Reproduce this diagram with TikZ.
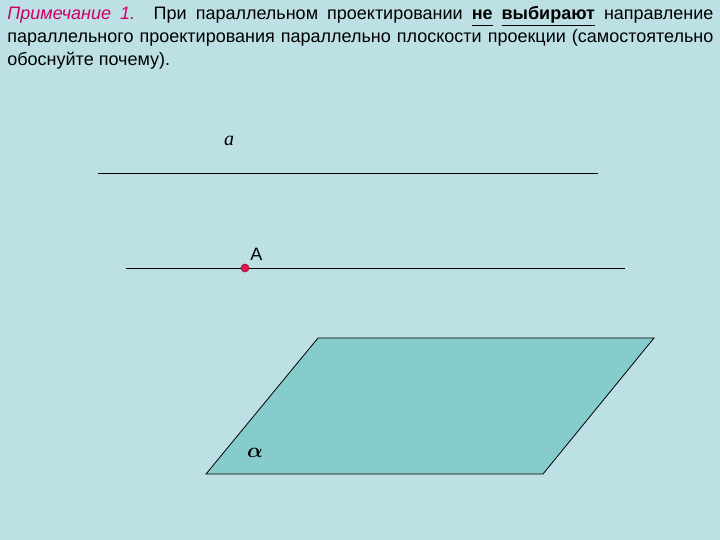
\documentclass[tikz,border=0pt]{standalone}
\usepackage{fontspec}
\usepackage{amsmath}
\setmainfont{Liberation Sans}
\newfontfamily\timesfont{Liberation Serif}
\usetikzlibrary{positioning}

\definecolor{slidebg}{RGB}{189,224,228}
\definecolor{planefill}{RGB}{134,204,204}
\definecolor{notepink}{RGB}{204,0,102}
\definecolor{dotred}{RGB}{222,20,80}

\begin{document}
\begin{tikzpicture}[x=1pt,y=-1pt,line width=0.8pt,
	slide text/.style={anchor=north west,inner sep=0pt,text width=706pt,
		align=justify,font=\fontsize{18}{23}\selectfont},
	line label/.style={inner sep=0pt,font=\fontsize{18}{18}\selectfont},
	point dot/.style={circle,draw=dotred!70!black,fill=dotred,
		inner sep=0pt,minimum size=8pt,line width=0.6pt}]
	
	% background of the slide
	\fill[slidebg] (0,0) rectangle (720,540);
	\useasboundingbox (0,0) rectangle (720,540);
	
	\node[slide text] (note) at (7,6) {{\color{notepink}\itshape Примечание 1.}
		При параллельном проектировании \underline{\textbf{не}\vphantom{р}}
		\underline{\textbf{выбирают}} направление\linebreak
		параллельного проектирования параллельно плоскости проекции
		(самостоятельно\linebreak обоснуйте почему).};
	
	% line a
	\coordinate (a1) at (98,173);
	\coordinate (a2) at (598,173);
	\draw (a1) -- (a2);
	\node[line label] (alabel) at (229,141) {\fontsize{20}{20}\selectfont\timesfont\itshape a};
	
	% line through A
	\coordinate (b1) at (126,268);
	\coordinate (b2) at (625,268);
	\draw (b1) -- (b2);
	\node[point dot] (A) at (245,268) {};
	\node[line label] (Alabel) [above right=4pt and 2pt of A] {A};
	
	% plane alpha
	\coordinate (p1) at (206,474);
	\coordinate (p2) at (543,474);
	\coordinate (p3) at (654,338);
	\coordinate (p4) at (318,338);
	\filldraw[fill=planefill] (p1) -- (p2) -- (p3) -- (p4) -- cycle;
	\node[line label] (alpha) at (255,453) {\fontsize{22}{22}\selectfont$\boldsymbol{\alpha}$};
\end{tikzpicture}
\end{document}
